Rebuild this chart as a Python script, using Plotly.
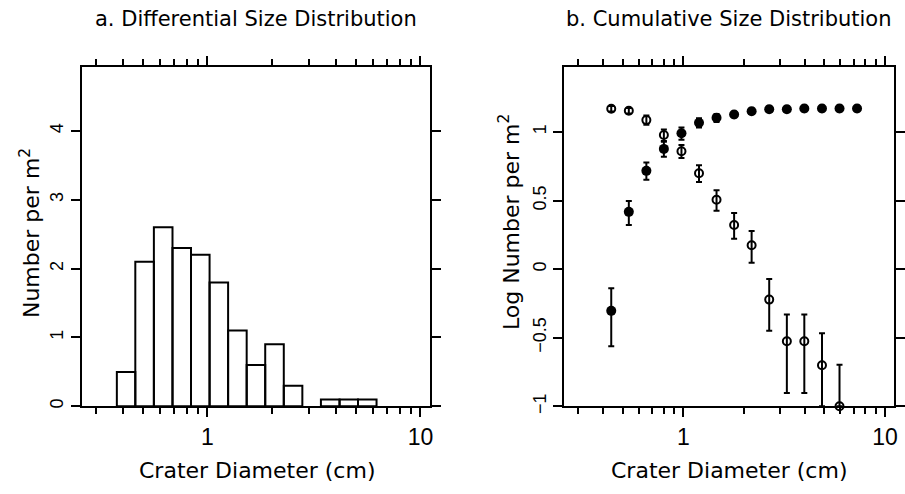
import plotly.graph_objects as go

# ---- Data ----
# Panel a: differential size distribution (histogram on log bins)
bin_edges = [0.376, 0.459, 0.561, 0.686, 0.838, 1.024, 1.251, 1.529, 1.868,
             2.283, 2.79, 3.41, 4.17, 5.09, 6.22]
bin_counts = [0.5, 2.1, 2.6, 2.3, 2.2, 1.8, 1.1, 0.6, 0.9, 0.3, 0.0, 0.1, 0.1, 0.1]

# Panel b: cumulative size distribution (log number per m^2)
diam = [0.4385, 0.536, 0.655, 0.800, 0.978, 1.195, 1.46, 1.785, 2.18, 2.665,
        3.26, 3.98, 4.87, 5.95, 7.27]
open_vals = [1.170, 1.155, 1.087, 0.979, 0.860, 0.700, 0.506, 0.322, 0.174,
             -0.222, -0.526, -0.526, -0.700, -1.000]
open_err_up = [0.02, 0.02, 0.033, 0.04, 0.045, 0.058, 0.07, 0.088, 0.105,
               0.15, 0.196, 0.196, 0.232, 0.303]
open_err_dn = [0.02, 0.02, 0.033, 0.045, 0.05, 0.065, 0.08, 0.10, 0.127,
               0.227, 0.377, 0.377, 0.30, 0.0]
filled_vals = [-0.304, 0.418, 0.717, 0.877, 0.991, 1.068, 1.104, 1.128, 1.151,
               1.166, 1.166, 1.171, 1.171, 1.171, 1.171]
filled_err_up = [0.165, 0.079, 0.06, 0.052, 0.043, 0.033, 0.028, 0.02, 0.02,
                 0.02, 0.02, 0.02, 0.02, 0.02, 0.02]
filled_err_dn = [0.258, 0.096, 0.065, 0.058, 0.047, 0.035, 0.03, 0.02, 0.02,
                 0.02, 0.02, 0.02, 0.02, 0.02, 0.02]

xtick_vals = [1, 10]
xtick_text = ["1", "10"]
xminor_vals = [0.3, 0.4, 0.5, 0.6, 0.7, 0.8, 0.9, 2, 3, 4, 5, 6, 7, 8, 9]
ya_ticks = [0, 1, 2, 3, 4]
yb_ticks = [-1, -0.5, 0, 0.5, 1]
yb_text = ["\u22121", "\u22120.5", "0", "0.5", "1"]

# ---- Build histogram outline path ----
hx, hy = [], []
for i, v in enumerate(bin_counts):
    if v <= 0:
        continue
    x0, x1 = bin_edges[i], bin_edges[i + 1]
    hx += [x0, x0, x1, x1, x0, None]
    hy += [0, v, v, 0, 0, None]

W, H = 905, 494
fig = go.Figure()
fig.add_trace(go.Scatter(x=hx, y=hy, mode="lines", line=dict(color="black", width=2),
                         xaxis="x", yaxis="y", showlegend=False, hoverinfo="skip"))

fig.add_trace(go.Scatter(
    x=diam[:len(open_vals)], y=open_vals, mode="markers", xaxis="x2", yaxis="y2",
    marker=dict(symbol="circle-open", size=8, color="black", line=dict(width=2, color="black")),
    error_y=dict(type="data", symmetric=False, array=open_err_up, arrayminus=open_err_dn,
                 color="black", thickness=2, width=3),
    cliponaxis=False, showlegend=False))
fig.add_trace(go.Scatter(
    x=diam, y=filled_vals, mode="markers", xaxis="x2", yaxis="y2",
    marker=dict(symbol="circle", size=10, color="black"),
    error_y=dict(type="data", symmetric=False, array=filled_err_up, arrayminus=filled_err_dn,
                 color="black", thickness=2, width=3),
    cliponaxis=False, showlegend=False))

ydom = [1 - 413 / H, 1 - 68 / H]
xrng = [-0.59, 1.045]
common_x = dict(type="log", range=xrng, showgrid=False, zeroline=False,
                showline=True, linecolor="black", linewidth=2, mirror="allticks",
                ticks="outside", ticklen=9, tickwidth=2, tickcolor="black",
                tickmode="array", tickvals=xtick_vals, ticktext=xtick_text,
                tickfont=dict(family="Liberation Sans", size=23, color="black"),
                minor=dict(tickmode="array", tickvals=xminor_vals, ticks="outside",
                           ticklen=6, tickwidth=2, tickcolor="black", showgrid=False))
common_y = dict(showgrid=False, zeroline=False, showline=True, linecolor="black",
                linewidth=2, mirror="allticks", ticks="outside", ticklen=9, tickwidth=2,
                tickcolor="black", tickangle=-90,
                tickfont=dict(family="Liberation Sans", size=18, color="black"))

fig.update_layout(
    width=W, height=H, margin=dict(l=0, r=0, t=0, b=0),
    paper_bgcolor="white", plot_bgcolor="white",
    xaxis=dict(domain=[82 / W, 432 / W], anchor="y", **common_x),
    yaxis=dict(domain=ydom, anchor="x", range=[0, 4.93], tickmode="array",
               tickvals=ya_ticks, ticktext=[str(t) for t in ya_ticks], **common_y),
    xaxis2=dict(domain=[567 / W, 898 / W], anchor="y2", **common_x),
    yaxis2=dict(domain=ydom, anchor="x2", range=[-1, 1.475], tickmode="array",
                tickvals=yb_ticks, ticktext=yb_text, **common_y),
)

tfont = dict(family="DejaVu Sans", size=21, color="black")
afont = dict(family="DejaVu Sans", size=22, color="black")
ann = [
    dict(text="a. Differential Size Distribution", x=257 / W, y=1 - 19 / H, font=tfont),
    dict(text="b. Cumulative Size Distribution", x=732 / W, y=1 - 19 / H, font=tfont),
    dict(text="Crater Diameter (cm)", x=258 / W, y=1 - 478 / H, font=afont),
    dict(text="Crater Diameter (cm)", x=732 / W, y=1 - 478 / H, font=afont),
    dict(text="Number per m<sup>2</sup>", x=30 / W, y=1 - 237 / H, font=afont, textangle=-90),
    dict(text="Log Number per m<sup>2</sup>", x=512 / W, y=1 - 226 / H, font=afont, textangle=-90),
]
for a in ann:
    fig.add_annotation(xref="paper", yref="paper", xanchor="center", yanchor="middle",
                       showarrow=False, **a)

fig.write_html("out.html")
